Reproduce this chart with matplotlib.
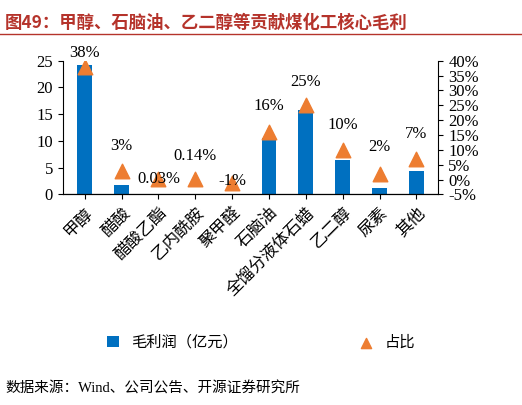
import matplotlib.pyplot as plt
from matplotlib.ticker import FuncFormatter

plt.rcParams['font.family'] = ['Liberation Serif', 'Noto Sans CJK SC']

categories = ['甲醇', '醋酸', '醋酸乙酯', '乙内酰胺', '聚甲醛', '石脑油', '全馏分液体石蜡', '乙二醇', '尿素', '其他']
profit = [24.2, 1.8, 0.05, 0.1, -0.4, 10.5, 15.8, 6.5, 1.2, 4.3]
share = [38, 3, 0.03, 0.14, -1, 16, 25, 10, 2, 7]
share_labels = ['38%', '3%', '0.03%', '0.14%', '-1%', '16%', '25%', '10%', '2%', '7%']
# label offset above each triangle, in points
label_dy = [10, 18, 0, 17, 1, 19, 17, 18, 19, 18]

fig = plt.figure(figsize=(5.22, 4.05), dpi=100)
fig.text(0.01, 0.965, '图49：甲醇、石脑油、乙二醇等贡献煤化工核心毛利', color='#b5332b',
         fontsize=12.5, fontweight='bold', va='top', family=['Noto Sans CJK SC'])
fig.add_artist(plt.Line2D([0, 1], [0.915, 0.915], color='#b5332b', lw=1))
fig.text(0.01, 0.03, '数据来源：Wind、公司公告、开源证券研究所', fontsize=10.5,
         family=['Liberation Serif', 'Noto Sans CJK SC'])

ax = fig.add_axes([0.12, 0.52, 0.72, 0.33])
x = range(len(categories))
bars = ax.bar(x, profit, width=0.4, color='#0070c0', label='毛利润（亿元）')
ax.set_ylim(0, 25)
ax.set_xlim(-0.6, 9.6)
ax.set_yticks([0, 5, 10, 15, 20, 25])
ax.set_xticks(list(x))
ax.set_xticklabels(categories, rotation=45, ha='right', rotation_mode='anchor',
                   family=['Noto Sans CJK SC'], fontsize=11)
ax.tick_params(labelsize=12)
for s in ['top', 'right']:
    ax.spines[s].set_visible(False)
ax.axhline(0, color='#555555', lw=0.8)

ax2 = ax.twinx()
ax2.set_ylim(-5, 40)
ax2.set_yticks(range(-5, 45, 5))
ax2.yaxis.set_major_formatter(FuncFormatter(lambda v, p: f'{int(v)}%'))
ax2.tick_params(labelsize=12)
tri = ax2.scatter(x, share, marker='^', s=110, color='#ed7d31', zorder=3, label='占比')
for xi, v, t, dy in zip(x, share, share_labels, label_dy):
    ax2.annotate(t, (xi, v), xytext=(0, dy), textcoords='offset points',
                 ha='center', va='center', fontsize=12, zorder=4)
for s in ['top', 'left']:
    ax2.spines[s].set_visible(False)

fig.legend([bars, tri], ['毛利润（亿元）', '占比'], loc='lower center', ncol=2,
           bbox_to_anchor=(0.5, 0.1), frameon=False, columnspacing=8,
           handlelength=0.8, markerscale=0.7,
           prop={'family': 'Noto Sans CJK SC', 'size': 11})
fig.savefig('out.png', dpi=100)
